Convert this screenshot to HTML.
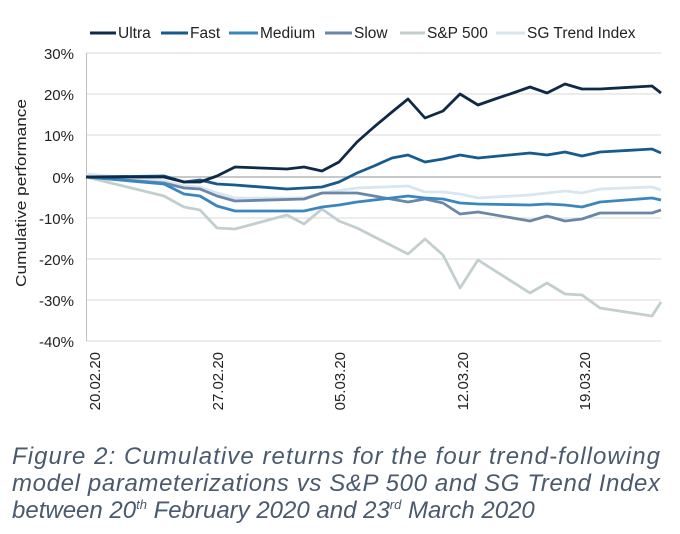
<!DOCTYPE html>
<html><head><style>body{margin:0;background:#fff}svg{display:block}</style></head><body>
<svg width="680" height="534" xmlns="http://www.w3.org/2000/svg" font-family="Liberation Sans, sans-serif">
<g stroke="#d9d9d9" stroke-width="1">
<line x1="86" x2="661" y1="53" y2="53"/><line x1="86" x2="661" y1="94" y2="94"/><line x1="86" x2="661" y1="135" y2="135"/>
<line x1="86" x2="661" y1="218" y2="218"/><line x1="86" x2="661" y1="259" y2="259"/><line x1="86" x2="661" y1="300" y2="300"/><line x1="86" x2="661" y1="341" y2="341"/>
</g>
<line x1="86" x2="661" y1="177" y2="177" stroke="#a6a6a6" stroke-width="1.2"/>
<line x1="86.5" x2="86.5" y1="53" y2="341" stroke="#bfbfbf"/>
<g font-size="15" fill="#222" text-anchor="end">
<text x="74" y="59">30%</text><text x="74" y="100">20%</text><text x="74" y="141">10%</text><text x="74" y="183">0%</text>
<text x="74" y="224">-10%</text><text x="74" y="265">-20%</text><text x="74" y="306">-30%</text><text x="74" y="347">-40%</text>
</g>
<text transform="translate(26,193) rotate(-90)" text-anchor="middle" font-size="15" fill="#222" textLength="188" lengthAdjust="spacingAndGlyphs">Cumulative performance</text>
<g font-size="15" fill="#222" text-anchor="end">
<text transform="translate(100,352) rotate(-90)">20.02.20</text>
<text transform="translate(223,352) rotate(-90)">27.02.20</text>
<text transform="translate(345,352) rotate(-90)">05.03.20</text>
<text transform="translate(468,352) rotate(-90)">12.03.20</text>
<text transform="translate(590,352) rotate(-90)">19.03.20</text>
</g>
<g fill="none" stroke-width="2.8" stroke-linejoin="round">
<polyline stroke="#d8e6f0" points="86,174 164,181 184,186 200,187 217,193 235,198 304,198 322,193 357,188 408,186 425,192 443,192 460,194 478,198 530,195 547,193 565,191 582,193 600,189 652,187 661,190"/>
<polyline stroke="#c3cfcf" points="86,177 164,196 184,207 200,210 217,228 235,229 287,215 304,224 322,209 339,221 357,228 408,254 425,239 443,255 460,288 478,260 530,293 547,283 565,294 582,295 600,308 652,316 661,302"/>
<polyline stroke="#6a87a8" points="86,177 164,183 184,188 200,189 217,196 235,201 304,199 322,193 357,193 408,202 425,199 443,203 460,214 478,212 530,221 547,216 565,221 582,219 600,213 652,213 661,210"/>
<polyline stroke="#3a87c0" points="86,177 164,184 184,194 200,196 217,206 235,211 304,211 322,207 339,205 357,202 408,196 425,198 443,199 460,203 478,204 530,205 547,204 565,205 582,207 600,202 652,198 661,200"/>
<polyline stroke="#165a8e" points="86,177 164,176 184,182 200,180 217,184 235,185 287,189 322,187 339,182 357,173 374,166 392,158 408,155 425,162 443,159 460,155 478,158 530,153 547,155 565,152 582,156 600,152 652,149 661,153"/>
<polyline stroke="#0e2a47" points="86,177 164,177 184,182 200,182 217,176 235,167 287,169 304,167 322,171 339,162 357,142 374,127 392,112 408,99 425,118 443,111 460,94 478,105 495,99 513,93 530,87 547,93 565,84 582,89 600,89 652,86 661,93"/>
</g>
<g stroke-width="3">
<line x1="90" x2="116" y1="33" y2="33" stroke="#0e2a47"/>
<line x1="161" x2="188" y1="33" y2="33" stroke="#165a8e"/>
<line x1="229" x2="258" y1="33" y2="33" stroke="#3a87c0"/>
<line x1="325" x2="352" y1="33" y2="33" stroke="#6a87a8"/>
<line x1="400" x2="425" y1="33" y2="33" stroke="#c3cfcf"/>
<line x1="496" x2="525" y1="33" y2="33" stroke="#d8e6f0"/>
</g>
<g font-size="15.5" fill="#222">
<text x="118" y="38">Ultra</text><text x="190" y="38">Fast</text><text x="260" y="38">Medium</text>
<text x="354" y="38">Slow</text><text x="427" y="38">S&amp;P 500</text><text x="527" y="38">SG Trend Index</text>
</g>
<g font-size="24" font-style="italic" fill="#4a5a6e">
<text x="12" y="464" textLength="648" lengthAdjust="spacing">Figure 2: Cumulative returns for the four trend-following</text>
<text x="12" y="491" textLength="648" lengthAdjust="spacing">model parameterizations vs S&amp;P 500 and SG Trend Index</text>
<text x="12" y="518">between 20<tspan font-size="13" dy="-9">th</tspan><tspan dy="9"> February 2020 and 23</tspan><tspan font-size="13" dy="-9">rd</tspan><tspan dy="9"> March 2020</tspan></text>
</g>
</svg>
</body></html>
